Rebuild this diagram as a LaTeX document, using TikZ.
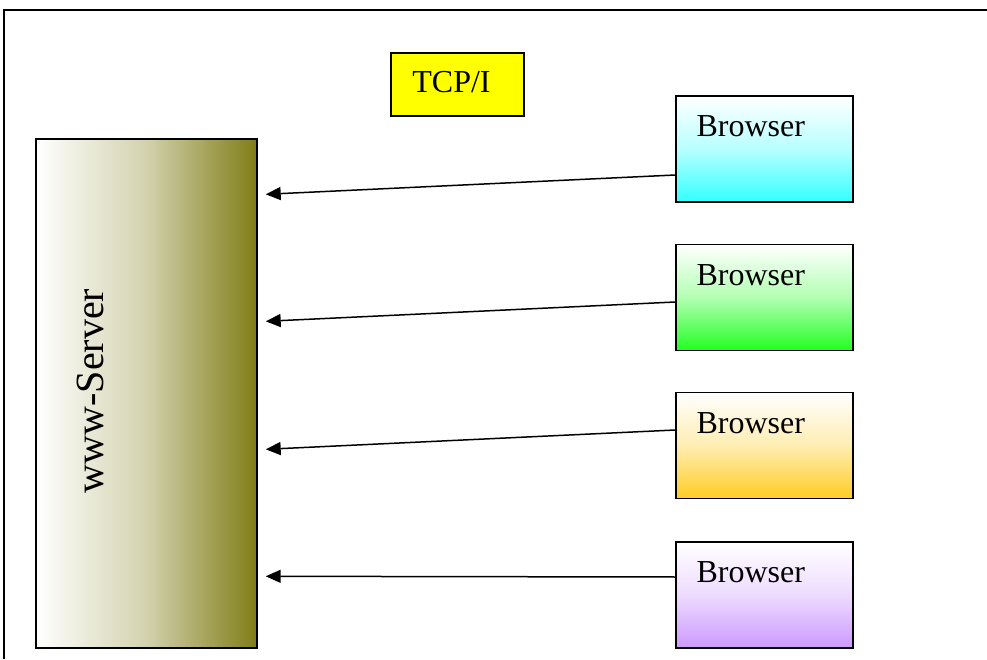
\documentclass[tikz,border=0pt]{standalone}
\usepackage{fontspec}
\setmainfont{Liberation Serif}
\usetikzlibrary{arrows.meta,calc}
\definecolor{srvolive}{RGB}{128,125,22}
\definecolor{bcyan}{RGB}{51,255,255}
\definecolor{bgreen}{RGB}{34,255,34}
\definecolor{borange}{RGB}{255,204,34}
\definecolor{bviolet}{RGB}{204,153,255}
\definecolor{tcpyellow}{RGB}{255,255,0}
\tikzset{
  boxline/.style={draw=black, line width=1.4pt},
  browserbox/.style={boxline, minimum width=177pt, minimum height=106pt,
    inner sep=0pt, top color=white, bottom color=#1, middle color=#1!35},
  browsertext/.style={anchor=west, inner sep=0pt, font=\fontsize{32}{36}\selectfont},
  link/.style={line width=1.5pt, -{Triangle[length=15pt,width=13pt]}}
}
\begin{document}
\begin{tikzpicture}[x=1pt,y=1pt]
\useasboundingbox (0,0) rectangle (987,659);
% outer frame (top and left edges)
\draw[line width=1.5pt] (4,0) -- (4,649);
\draw[line width=2.6pt] (3.2,649) -- (987,649);

% TCP/I label box
\node[boxline, fill=tcpyellow, minimum width=133pt, minimum height=63pt, inner sep=0pt]
  (tcp) at (457.5,574.5) {};
\node[inner sep=0pt, font=\fontsize{32}{36}\selectfont] (tcptext) at (451.5,577) {TCP/I};

% server
\node[boxline, minimum width=221pt, minimum height=509pt, inner sep=0pt,
  left color=white, right color=srvolive, middle color=srvolive!35!white]
  (srv) at (146.5,265.5) {};
\node[rotate=90, inner sep=0pt, font=\fontsize{40}{44}\selectfont] (srvtext) at (90,268) {www-Server};

% browsers
\node[browserbox=bcyan]   (b1) at (764.5,510) {};
\node[browserbox=bgreen]  (b2) at (764.5,361.5) {};
\node[browserbox=borange] (b3) at (764.5,213.5) {};
\node[browserbox=bviolet] (b4) at (764.5,64) {};
\foreach \i in {1,...,4}{
  \node[browsertext] (t\i) at ($(b\i.north west)+(21,-31)$) {Browser};
}

% arrow ends beside the server
\coordinate (e1) at ($(srv.north east)+(8,-56)$);
\coordinate (e2) at ($(srv.north east)+(8,-183)$);
\coordinate (e3) at ($(srv.north east)+(8,-311)$);
\coordinate (e4) at ($(srv.north east)+(8,-438)$);

\draw[link] ($(b1.west)+(0,-26)$) -- (e1);
\draw[link] ($(b2.west)+(0,-4.5)$) -- (e2);
\draw[link] ($(b3.west)+(0,15.5)$) -- (e3);
\draw[link] ($(b4.west)+(0,18)$) -- (e4);
\end{tikzpicture}
\end{document}
